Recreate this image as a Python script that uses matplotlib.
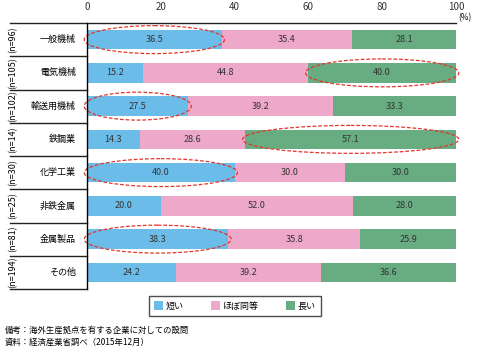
import matplotlib.pyplot as plt
from matplotlib.patches import Ellipse

plt.rcParams['font.family'] = ['Noto Sans CJK JP', 'DejaVu Sans']

# 業種とサンプル数
cats = ['一般機械', '電気機械', '輸送用機械', '鉄鋼業', '化学工業', '非鉄金属', '金属製品', 'その他']
ns = [96, 105, 102, 14, 30, 25, 81, 194]
short = [36.5, 15.2, 27.5, 14.3, 40.0, 20.0, 38.3, 24.2]
same = [35.4, 44.8, 39.2, 28.6, 30.0, 52.0, 35.8, 39.2]
long_ = [28.1, 40.0, 33.3, 57.1, 30.0, 28.0, 25.9, 36.6]
labels = ['短い', 'ほぼ同等', '長い']
colors = ['#6cbce9', '#eea8ca', '#68ac82']
# 丸で囲む部分 (行, 系列)
circled = [(0, 0), (1, 2), (2, 0), (3, 2), (4, 0), (6, 0)]

fig = plt.figure(figsize=(4.81, 3.51), dpi=100)
ax = fig.add_axes([87/481, 1-289/351, 369/481, 266/351])

y = list(range(len(cats)))
series = [short, same, long_]
left = [0]*len(cats)
for vals, c, lab in zip(series, colors, labels):
    ax.barh(y, vals, left=left, height=0.58, color=c, label=lab)
    for i, v in enumerate(vals):
        ax.text(left[i] + v/2, i, f'{v:.1f}', ha='center', va='center', fontsize=6.5, color='#333333')
    left = [a+b for a, b in zip(left, vals)]

for r, s in circled:
    start = sum(series[k][r] for k in range(s))
    end = start + series[s][r]
    ax.add_patch(Ellipse(((start+end)/2, r), end-start+1.5, 0.84, fill=False,
                         ec='#e2352a', ls=(0, (3, 1.5)), lw=0.9, clip_on=False))

ax.set_xlim(0, 100)
ax.set_ylim(7.5, -0.5)
ax.xaxis.tick_top()
ax.set_xticks([0, 20, 40, 60, 80, 100])
ax.tick_params(axis='x', length=0, labelsize=7, colors='#333333', pad=8)
ax.set_yticks([])
for sp in ['right', 'bottom', 'top']:
    ax.spines[sp].set_visible(False)
ax.spines['left'].set_linewidth(1)

yt = ax.get_yaxis_transform()
ax.plot([-0.21, 1.0], [-0.5, -0.5], transform=yt, color='#222222', lw=1, clip_on=False)
for b in [i + 0.5 for i in range(len(cats))]:
    ax.plot([-0.21, 0], [b, b], transform=yt, color='#222222', lw=1, clip_on=False)
for i, (c, n) in enumerate(zip(cats, ns)):
    ax.text(-0.03, i, c, transform=yt, ha='right', va='center', fontsize=6.5)
    ax.text(-0.2, i, f'(n={n})', transform=yt, ha='center', va='center', fontsize=6.5, rotation=90)
ax.text(1.005, -0.65, '(%)', transform=yt, ha='left', va='center', fontsize=6)

leg = fig.legend(loc='center', bbox_to_anchor=(235/481, 1-306/351), ncol=3, fontsize=6.5,
                 frameon=True, fancybox=False, edgecolor='#222222', handlelength=1,
                 handleheight=1, columnspacing=3.0, handletextpad=0.3, borderpad=0.55)
leg.get_frame().set_linewidth(1)

fig.text(5/481, 1-330/351, '備考：海外生産拠点を有する企業に対しての設問', fontsize=6, va='center')
fig.text(5/481, 1-342/351, '資料：経済産業省調べ（2015年12月）', fontsize=6, va='center')

fig.savefig('out.png', dpi=100)
